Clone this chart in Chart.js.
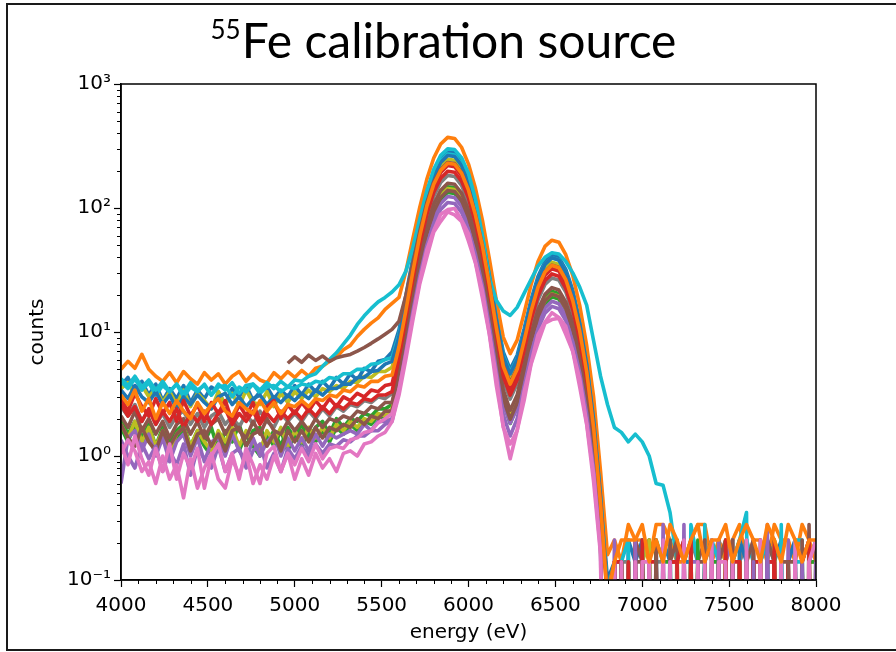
<!DOCTYPE html>
<html>
<head>
<meta charset="utf-8">
<title>55Fe calibration source</title>
<script src="https://cdn.jsdelivr.net/npm/chart.js@4.4.1/dist/chart.umd.min.js"></script>
<style>
  html, body { margin: 0; padding: 0; background: #fff; overflow: hidden; }
  #wrap { position: relative; width: 896px; height: 652px; }
  #frame { position: absolute; left: 6px; top: 3px; width: 1000px; height: 644px;
           border: 2px solid #1a1a1a; pointer-events: none; }
  canvas { position: absolute; left: 0; top: 0; }
</style>
</head>
<body>
<div id="wrap">
  <canvas id="chart" width="896" height="652"></canvas>
  <div id="frame"></div>
</div>
<script>
// Bin centres of the spectra (eV)
const energies = [
  4000,4040,4080,4120,4160,4200,4240,4280,4320,4360,
  4400,4440,4480,4520,4560,4600,4640,4680,4720,4760,
  4800,4840,4880,4920,4960,5000,5040,5080,5120,5160,
  5200,5240,5280,5320,5360,5400,5440,5480,5520,5560,
  5600,5640,5680,5720,5760,5800,5840,5880,5920,5960,
  6000,6040,6080,6120,6160,6200,6240,6280,6320,6360,
  6400,6440,6480,6520,6560,6600,6640,6680,6720,6760,
  6800,6840,6880,6920,6960,7000,7040,7080,7120,7160,
  7200,7240,7280,7320,7360,7400,7440,7480,7520,7560,
  7600,7640,7680,7720,7760,7800,7840,7880,7920,7960,
  8000
];

// Counts per bin, one array per pixel spectrum
const blueA = [
  3.7,4.3,3.3,4.0,3.1,3.8,2.8,3.5,2.9,3.7,2.7,3.4,2.9,3.6,3.3,2.6,3.5,3.0,3.7,2.8,
  3.3,3.6,2.9,3.4,3.0,3.7,3.1,3.8,3.3,4.0,3.5,4.3,3.8,4.6,4.1,5.1,4.8,5.8,6.0,6.9,
  10.4,19.8,39.7,76,130.6,195,252,287,282,239,174,110,62,30.5,13.9,6.9,5.0,6.5,10.6,18.2,
  28,37,41.8,40,32,21.8,12.3,5.8,2.05,0.49,0.1,
  0.14,0,0.21,0.14,0,0.14,0,0.21,0.14,0,0.14,0.21,0,0.14,0,0.21,0.14,0,0.14,0.21,
  0,0.14,0,0.14,0.21,0,0.14,0,0.14,0.21
];
const orangeA = [
  5.0,5.8,5.1,6.6,5.0,4.4,4.0,4.7,3.9,4.8,4.2,3.8,4.7,4.1,4.6,3.8,4.4,4.8,4.0,4.6,
  4.1,3.9,4.7,4.2,4.8,4.3,4.9,4.4,5.1,5.3,5.8,6.3,7.2,7.8,9.2,10.5,11.8,13,15.2,17,
  19,31,57,102,170,253,328,371,364,309,226,144,80,39,18,9.1,6.7,8.6,14.2,24,
  37,49,55,53,42,28.6,16.4,7.8,3.0,0.75,0.16,
  0.21,0.14,0.28,0.21,0.21,0.14,0.28,0.28,0.21,0.14,0.14,0.21,0.28,0.28,0.14,0.21,0.14,0.21,0.28,0.14,
  0.21,0.21,0.14,0.28,0.21,0.21,0.14,0.28,0.21,0.14
];
const greenA = [
  2.0,1.5,1.9,1.4,1.8,1.2,1.7,1.3,1.6,1.8,1.2,1.6,1.3,1.7,1.1,1.6,1.3,1.8,1.2,1.6,
  1.7,1.3,1.6,1.2,1.7,1.4,1.8,1.4,1.7,1.9,1.5,2.0,1.7,2.0,1.9,2.2,2.1,2.4,2.4,2.6,
  4.7,9.4,19.7,38.5,67,100.5,130,148.5,145.7,123.5,90,56.7,31.9,15.4,6.85,3.24,2.25,2.98,5.1,9.0,
  14.1,18.8,21.3,20.4,16.3,11.05,6.25,2.94,1.05,0.25,0,
  0,0.14,0,0.14,0,0.21,0,0.14,0.14,0,0,0.14,0,0.14,0,0.21,0,0.14,0.21,0,
  0.14,0,0.14,0,0.14,0,0,0.14,0,0.21
];
const redA = [
  2.9,2.3,3.2,2.5,2.1,2.9,2.2,2.7,1.9,2.8,2.1,2.6,1.9,2.7,2.2,2.8,1.9,2.6,2.1,2.7,
  1.9,2.5,2.8,2.0,2.6,2.2,2.7,2.3,2.8,2.4,2.9,2.5,3.0,2.8,3.2,3.0,3.4,3.3,3.7,3.8,
  6.9,14,29.2,56.9,98.7,148.6,193,220,215.6,182.7,133,83.9,47.3,23,10.3,4.9,3.5,4.6,7.9,13.8,
  21.5,28.7,32.4,31,24.9,16.9,9.5,4.5,1.6,0.38,0.07,
  0.14,0,0.14,0,0.21,0,0.14,0,0.14,0.14,0.21,0,0.14,0,0.14,0,0.21,0,0.14,0,
  0.14,0.14,0,0.21,0,0.14,0,0.14,0,0.14
];
const purpleA = [
  0.6,1.4,1.6,1.1,1.5,1.0,1.4,0.9,1.3,1.5,1.0,1.4,0.9,1.3,1.4,1.0,1.5,1.1,0.9,1.4,
  1.0,1.3,1.5,1.0,1.4,1.1,1.4,1.1,1.5,1.2,1.5,1.4,1.5,1.6,1.5,1.8,1.6,1.9,1.9,2.0,
  3.75,7.8,16.3,32,55.5,83.6,108.6,123.8,121.4,102.9,75,47.3,26.5,12.8,5.7,2.67,1.84,2.45,4.2,7.5,
  11.8,15.6,17.7,16.9,13.6,9.2,5.2,2.44,0.88,0.21,0,
  0.21,0,0.14,0,0,0.14,0,0.28,0,0.14,0,0.14,0.14,0,0.21,0,0.14,0.21,0,0.14,
  0,0,0.14,0.14,0,0.21,0,0.14,0,0.21
];
const brownA = [
  2.1,1.7,2.3,1.6,2.0,1.5,1.9,1.4,1.8,2.0,1.5,1.9,1.4,1.8,2.0,1.5,1.9,1.6,1.4,1.9,
  1.5,2.0,1.6,1.5,1.9,1.6,1.9,1.6,2.0,1.7,2.0,1.9,2.1,2.0,2.3,2.2,2.5,2.4,2.7,2.7,
  4.9,10,21,41,71.2,107,139,158.4,155.4,131.7,96,60.5,34,16.4,7.24,3.4,2.34,3.1,5.4,9.6,
  15.1,20.1,22.8,21.8,17.4,11.8,6.7,3.1,1.1,0.27,0,
  0,0.14,0,0.21,0.14,0,0.14,0,0.14,0.21,0,0.21,0,0.14,0,0.14,0.21,0,0.14,0,
  0.14,0,0.21,0.14,0,0.14,0.14,0,0.28,0
];
const olive = [
  3.5,3.9,3.1,3.7,3.0,3.5,2.7,3.3,2.6,3.4,2.5,3.2,2.8,2.4,3.3,2.6,3.2,2.5,3.4,2.7,
  2.6,3.3,2.5,3.2,2.7,3.3,2.9,3.4,3.0,3.5,3.3,3.7,3.5,4.0,3.9,4.4,4.3,4.8,4.8,5.2,
  8.4,16.4,33.5,64.7,111.9,167.9,217,247.5,242.75,205.75,150,94.5,53.5,26.1,11.75,5.74,4.1,5.4,9.0,15.7,
  24.4,32.4,36.6,35,28,19,10.8,5.06,1.8,0.43,0.08,
  0.14,0,0.14,0,0.14,0.21,0,0.14,0,0.21,0,0.14,0,0.14,0,0.14,0.21,0,0.14,0,
  0.14,0.14,0,0.21,0.14,0,0.14,0,0.14,0.14
];
const gray = [
  2.5,2.1,2.6,1.9,2.4,1.8,2.2,1.7,2.1,2.3,1.8,2.2,1.7,2.1,2.3,1.8,2.1,1.7,2.2,1.8,
  2.3,1.9,1.7,2.2,1.9,2.2,1.9,2.3,2.0,2.4,2.1,2.5,2.3,2.6,2.5,2.8,2.7,3.0,2.9,3.2,
  5.7,11.7,24.3,47.5,82.3,123.8,160.8,183.2,179.6,152.3,111,69.9,39.4,19.1,8.5,4.06,2.88,3.84,6.6,11.6,
  18.1,24.2,27.3,26.2,21,14.2,8.06,3.78,1.35,0.32,0,
  0,0.14,0.14,0,0.21,0,0.14,0.14,0,0.14,0,0.21,0.14,0,0.14,0,0.14,0,0.14,0.21,
  0,0.14,0,0.14,0,0.14,0.21,0,0.14,0
];
const cyan = [
  4.2,3.7,4.4,3.6,4.1,3.4,4.0,3.3,3.8,3.2,3.9,3.4,3.7,3.1,3.8,3.4,3.9,3.2,3.7,3.8,
  3.4,3.9,3.5,4.0,3.6,4.1,4.0,4.4,4.6,5.3,6.0,6.8,8.0,9.4,11.5,13.5,15.5,17.5,19,21,
  24,31,48,82,137,205,266,300,296,255,190,118,60,27,18,14.8,13.6,15.8,20.5,26.5,
  34,40,43.5,42.5,37,30,23,16.5,8.5,4.4,2.6,
  1.7,1.55,1.3,1.5,1.3,1.0,0.6,0.58,0.35,0.14,0,0.28,0.14,0,0.21,0.14,0,0.14,0.21,0.35,
  0,0.14,0.21,0,0.14,0,0.21,0.21,0,0.14
];
const cyanB = [
  4.0,3.5,4.2,3.4,3.9,3.1,3.7,3.3,3.8,3.0,3.6,3.3,3.8,3.1,3.6,3.7,3.0,3.6,3.3,3.8,
  3.2,3.6,3.7,3.3,3.6,3.5,3.8,3.7,4.0,3.9,4.3,4.2,4.6,4.6,5.0,5.0,5.5,5.6,6.0,6.2,
  9.6,18.4,37.3,71.5,123.5,185,239,272.3,267,226.3,165,104,59,28.9,13.1,6.5,4.7,6.1,10,17.2,
  26.6,35.2,39.7,38.1,30.4,20.7,11.7,5.5,1.95,0.47,0.08,
  0,0.14,0.21,0,0.14,0,0.14,0,0.21,0,0.14,0.14,0,0.28,0,0.14,0,0.14,0,0.21,
  0.14,0,0.14,0,0.28,0,0.14,0.14,0,0.14
];
const blueB = [
  3.4,2.9,3.7,3.0,2.7,3.3,2.6,3.1,2.4,3.0,2.6,3.1,2.7,2.4,3.0,3.2,2.6,3.0,2.5,2.9,
  3.1,2.6,3.0,2.7,3.1,2.8,3.2,2.9,3.4,3.1,3.5,3.5,3.8,3.8,4.3,4.3,4.8,4.9,5.5,5.8,
  9.2,17.8,36.1,69.6,120.1,180,232.9,265.3,260.2,220.6,160.8,101.3,57.5,28.1,12.75,6.3,4.6,6.0,9.9,17.1,
  26.5,35.1,39.7,38,30.4,20.7,11.7,5.5,1.95,0.47,0.08,
  0,0.14,0,0.14,0.21,0,0.21,0,0.14,0,0.14,0.14,0,0.14,0.21,0,0.14,0,0.21,0.14,
  0,0.14,0.21,0.14,0,0.14,0.21,0,0.14,0
];
const orangeB = [
  3.1,2.6,3.4,2.3,2.9,2.0,2.7,2.2,2.8,2.3,2.0,2.7,2.2,2.6,2.9,2.3,2.1,2.7,2.4,2.2,
  2.8,2.3,2.7,2.2,2.6,2.5,2.8,2.5,2.9,2.8,3.1,3.0,3.4,3.3,3.7,3.6,4.0,4.0,4.4,4.5,
  7.6,15,30.9,59.9,103.6,155.6,201.6,229.7,225.3,190.9,139.2,87.7,49.6,24.1,10.85,5.28,3.8,5.0,8.45,14.7,
  23,30.5,34.5,33,26.4,17.9,10.2,4.8,1.7,0.41,0.07,
  0.14,0.21,0.21,0.21,0.28,0.14,0.21,0.14,0.28,0.21,0.14,0.21,0.28,0.14,0.21,0.21,0.28,0.14,0.21,0.28,
  0.21,0.14,0.28,0.21,0.14,0.28,0.21,0.14,0.21,0.21
];
const redB = [
  2.6,2.1,2.5,1.9,2.4,1.8,2.3,1.9,2.4,1.7,2.2,1.9,2.3,1.8,2.2,2.4,1.8,2.2,1.9,2.3,
  1.8,2.2,1.9,2.3,2.0,2.3,2.0,2.4,2.1,2.5,2.2,2.6,2.4,2.7,2.6,2.9,2.8,3.1,3.1,3.3,
  6.1,12.5,26.2,51.2,88.8,133.8,173.8,198,194.2,164.6,120,75.6,42.6,20.7,9.2,4.4,3.1,4.12,7.1,12.5,
  19.5,26,29.4,28.2,22.5,15.2,8.6,4.05,1.45,0.35,0,
  0.14,0.14,0,0.21,0,0.14,0.14,0,0.14,0.14,0,0.21,0,0.14,0,0.14,0,0.14,0.14,0,
  0.21,0,0.14,0.14,0,0.14,0,0.14,0.21,0
];
const brownB = [
  1.8,1.4,1.2,1.7,1.3,1.1,1.6,1.2,1.5,1.7,1.1,1.5,1.6,1.2,1.5,1.1,1.6,1.7,1.2,1.5,
  1.6,1.2,1.5,1.1,1.6,1.3,1.6,1.3,1.7,1.4,1.7,1.6,1.8,1.7,2.0,1.8,2.1,2.0,2.3,2.3,
  4.2,8.7,18.3,35.8,62.1,93.7,121.7,138.6,135.9,115.2,84,52.9,29.6,14.3,6.26,2.9,1.98,2.68,4.74,8.5,
  13.3,17.8,20.2,19.3,15.5,10.5,5.9,2.78,1.0,0.24,0,
  0,0.14,0,0.14,0.14,0,0.21,0,0.21,0,0.14,0,0.14,0.14,0,0.14,0,0.21,0,0.14,
  0.21,0,0.14,0,0.14,0.14,0,0.21,0,0.21
];
const brownC = [
  null,null,null,null,null,null,null,null,null,null,null,null,null,null,null,null,null,null,null,null,
  null,null,null,null,5.6,6.3,5.7,6.5,5.9,6.4,5.8,6.2,6.4,6.6,7.0,7.5,8.1,8.8,9.6,10.5,
  12.2,19.8,35.9,65.2,110.5,161.8,204.2,232.7,228.2,193.4,141,88.8,50.3,24.5,11.1,5.4,3.9,5.1,8.5,14.8,
  23,30.6,34.6,33.1,26.5,18,10.2,4.8,1.7,0.41,0,
  0.14,0.14,0,0.14,0,0.21,0,0.14,0,0.14,0.21,0,0.14,0.21,0,0.14,0,0.14,0,0.14,
  0,0.21,0,0.14,0,0.14,0,0.14,0.21,0
];
const greenB = [
  1.7,1.3,1.8,1.2,1.6,1.1,1.5,1.0,1.4,1.6,1.1,1.5,1.2,1.0,1.5,1.2,1.6,1.1,1.5,1.2,
  1.0,1.5,1.2,1.6,1.1,1.5,1.2,1.6,1.3,1.6,1.3,1.7,1.5,1.8,1.6,1.9,1.8,2.1,2.0,2.3,
  4.1,8.5,17.7,34.6,60,90.4,117.3,133.7,131.1,111.1,81,51,28.5,13.7,6.0,2.7,1.83,2.5,4.45,8.0,
  12.6,16.9,19.2,18.4,14.7,9.9,5.6,2.64,0.95,0.23,0,
  0,0,0.14,0,0.14,0,0.21,0.14,0,0.14,0,0,0.21,0,0.14,0.14,0,0.21,0,0.14,
  0,0.14,0,0.21,0,0.14,0,0,0.14,0.14
];
const oliveB = [
  1.8,1.4,1.9,1.3,1.7,1.2,1.6,1.1,1.5,1.7,1.2,1.6,1.3,1.1,1.6,1.3,1.7,1.2,1.6,1.3,
  1.1,1.6,1.3,1.7,1.2,1.6,1.3,1.7,1.4,1.7,1.4,1.8,1.6,1.9,1.7,2.0,1.9,2.2,2.1,2.4,
  4.4,9.1,19,37.1,64.4,97,126,143.6,140.8,119.3,87,54.8,30.8,14.9,6.56,3.06,2.1,2.8,4.83,8.56,
  13.4,17.9,20.3,19.4,15.5,10.5,5.9,2.8,1.0,0.24,0,
  0.14,0,0.14,0,0,0.21,0,0.14,0,0.14,0,0.21,0,0,0.14,0,0.21,0,0.14,0,
  0,0.14,0,0.21,0,0.14,0,0.14,0,0.14
];
const purpleB = [
  1.35,1.0,0.8,1.25,0.95,1.2,0.75,1.1,0.85,1.25,0.7,1.15,0.95,0.8,1.2,0.75,1.05,1.15,0.8,1.1,
  1.25,0.8,1.05,0.75,1.15,0.95,1.2,1.0,1.25,1.05,1.25,1.2,1.35,1.3,1.45,1.45,1.6,1.6,1.8,1.9,
  3.4,7,14.7,28.6,49.8,74.9,97.3,110.9,108.8,92.2,67.2,42.3,23.6,11.3,4.9,2.17,1.45,2.0,3.65,6.67,
  10.55,14.2,16.1,15.4,12.35,8.35,4.7,2.2,0.8,0.19,0,
  0.14,0,0,0.21,0,0.14,0,0,0.14,0,0.28,0,0.14,0,0,0.21,0,0.14,0,0,
  0.14,0,0.28,0,0.14,0,0,0.14,0,0.14
];
const pinkA = [
  1.05,1.35,1.1,0.75,0.9,0.6,1.0,0.65,0.85,0.46,0.95,0.55,0.8,1.05,0.65,0.55,0.95,0.7,1.05,0.6,
  0.85,0.65,1.0,0.75,1.05,0.65,0.95,0.7,1.05,0.8,0.95,0.75,1.05,1.1,1.0,1.25,1.3,1.45,1.55,1.9,
  3.1,6.1,12.5,24.6,40,64,78,93,88,78,54,36,18.8,9.6,3.7,1.75,0.95,1.6,2.8,5.5,
  8.2,11.8,12.6,12.9,9.6,7.0,3.6,1.8,0.62,0.16,0,
  0,0.14,0,0,0.14,0.14,0,0,0.14,0,0.21,0,0,0.14,0,0.14,0.14,0,0,0.14,
  0,0.21,0,0,0.14,0,0.21,0,0.14,0
];
const pinkB = [
  1.25,0.85,1.45,0.95,0.7,1.15,0.75,1.25,0.65,1.05,0.8,1.15,0.55,1.0,1.25,0.75,1.05,0.65,1.15,0.85,
  0.6,1.05,1.2,0.75,1.05,0.85,1.15,0.9,1.25,0.95,1.15,1.2,1.15,1.35,1.4,1.55,1.6,1.85,2.0,2.2,
  3.45,6.65,13.5,26,46,66,89,97,99,80,62,36.5,21.5,9.7,4.4,1.7,1.25,1.6,3.3,5.6,
  9.5,12,14.3,13.1,11.1,7.0,4.2,1.85,0.72,0.17,0,
  0.14,0,0,0.14,0,0.14,0,0.21,0,0,0.14,0,0.14,0,0.21,0,0,0.14,0,0.21,
  0,0.14,0,0,0.14,0,0.14,0,0.14,0.21
];

// Axis ticks
const xTickValues = [4000, 4500, 5000, 5500, 6000, 6500, 7000, 7500, 8000];
const yTickValues = [0.1, 1, 10, 100, 1000];
const yTickLabels = ['10\u207B\u00B9', '10\u2070', '10\u00B9', '10\u00B2', '10\u00B3'];

// matplotlib "tab10" colours
const C = {
  blue: '#1f77b4', orange: '#ff7f0e', green: '#2ca02c', red: '#d62728', purple: '#9467bd',
  brown: '#8c564b', pink: '#e377c2', gray: '#7f7f7f', olive: '#bcbd22', cyan: '#17becf'
};

// Plotting order: first entry is drawn first (underneath)
const spectra = [
  [blueA, C.blue], [orangeA, C.orange], [greenA, C.green], [gray, C.gray], [olive, C.olive],
  [cyanB, C.cyan], [blueB, C.blue], [cyan, C.cyan], [brownC, C.brown], [greenB, C.green],
  [oliveB, C.olive], [purpleA, C.purple], [brownA, C.brown], [redA, C.red], [redB, C.red],
  [brownB, C.brown], [purpleB, C.purple], [pinkB, C.pink], [pinkA, C.pink], [orangeB, C.orange]
];

// Empty bins cannot sit on a log axis: push them far below it (as matplotlib clips them)
const EMPTY_BIN = 1e-6;

const datasets = spectra.map(([vals, color], i) => ({
  data: energies.map((e, k) => ({ x: e, y: vals[k] === null ? null : (vals[k] > 0 ? vals[k] : EMPTY_BIN) })),
  borderColor: color,
  backgroundColor: color,
  borderWidth: 3.6,
  pointRadius: 0,
  tension: 0,
  fill: false,
  spanGaps: false,
  borderJoinStyle: 'round',
  clip: 0,
  order: spectra.length - i
}));

const tickFont = { family: 'DejaVu Sans', size: 20 };

// Title with a superscripted mass number, centred over the figure
const TITLE_MASS = '55';
const TITLE_TEXT = 'Fe calibration source';
const figureTitle = {
  id: 'figureTitle',
  afterDraw(chart) {
    const { ctx } = chart;
    ctx.save();
    ctx.fillStyle = '#000';
    ctx.textBaseline = 'alphabetic';
    ctx.font = '26px Lato';
    const wSup = ctx.measureText(TITLE_MASS).width;
    ctx.font = '48px Lato';
    const wMain = ctx.measureText(TITLE_TEXT).width;
    const x0 = 443 - (wSup + wMain) / 2;
    ctx.font = '26px Lato';
    ctx.fillText(TITLE_MASS, x0, 39);
    ctx.font = '48px Lato';
    ctx.fillText(TITLE_TEXT, x0 + wSup + 1, 58);
    ctx.restore();
  }
};

// Minor tick marks and the closed axes box
const axesBox = {
  id: 'axesBox',
  afterDraw(chart) {
    const { ctx, chartArea: a, scales: { x, y } } = chart;
    ctx.save();
    ctx.strokeStyle = '#000';
    ctx.lineWidth = 1;
    ctx.beginPath();
    for (let e = x.min + 100; e < x.max; e += 100) {
      if (e % 500 === 0) continue;
      const px = Math.round(x.getPixelForValue(e)) + 0.5;
      ctx.moveTo(px, a.bottom);
      ctx.lineTo(px, a.bottom + 4);
    }
    for (let d = 0; d < yTickValues.length - 1; d++) {
      for (let m = 2; m <= 9; m++) {
        const py = Math.round(y.getPixelForValue(yTickValues[d] * m)) + 0.5;
        ctx.moveTo(a.left, py);
        ctx.lineTo(a.left - 4, py);
      }
    }
    ctx.stroke();
    ctx.lineWidth = 1.5;
    ctx.strokeRect(a.left, a.top, a.right - a.left, a.bottom - a.top);
    ctx.restore();
  }
};

new Chart(document.getElementById('chart'), {
  type: 'line',
  data: { datasets },
  plugins: [axesBox, figureTitle],
  options: {
    responsive: false,
    animation: false,
    devicePixelRatio: 1,
    layout: { padding: { top: 84, left: 0, right: 80, bottom: 0 } },
    plugins: {
      legend: { display: false },
      tooltip: { enabled: false },
      title: { display: false }
    },
    scales: {
      x: {
        type: 'linear',
        min: 4000,
        max: 8000,
        afterFit: (s) => { s.height = 72; },
        afterBuildTicks: (s) => { s.ticks = xTickValues.map(v => ({ value: v })); },
        ticks: {
          autoSkip: false, maxRotation: 0, color: '#000', font: tickFont, padding: 7,
          callback: (v) => String(v)
        },
        grid: { drawOnChartArea: false, drawTicks: true, tickLength: 7, color: '#000', tickWidth: 1.2 },
        border: { display: true, color: '#000', width: 1.5 },
        title: { display: true, text: 'energy (eV)', color: '#000', font: tickFont, padding: { top: 0, bottom: 7 } }
      },
      y: {
        type: 'logarithmic',
        min: 0.1,
        max: 1000,
        afterFit: (s) => { s.width = 121; },
        afterBuildTicks: (s) => { s.ticks = yTickValues.map(v => ({ value: v })); },
        ticks: {
          autoSkip: false, color: '#000', font: tickFont, padding: 3,
          callback: (v) => yTickLabels[yTickValues.indexOf(v)]
        },
        grid: { drawOnChartArea: false, drawTicks: true, tickLength: 7, color: '#000', tickWidth: 1.2 },
        border: { display: true, color: '#000', width: 1.5 },
        title: { display: true, text: 'counts', color: '#000', font: tickFont, padding: { top: 26, bottom: 0 } }
      }
    }
  }
});
</script>
</body>
</html>
